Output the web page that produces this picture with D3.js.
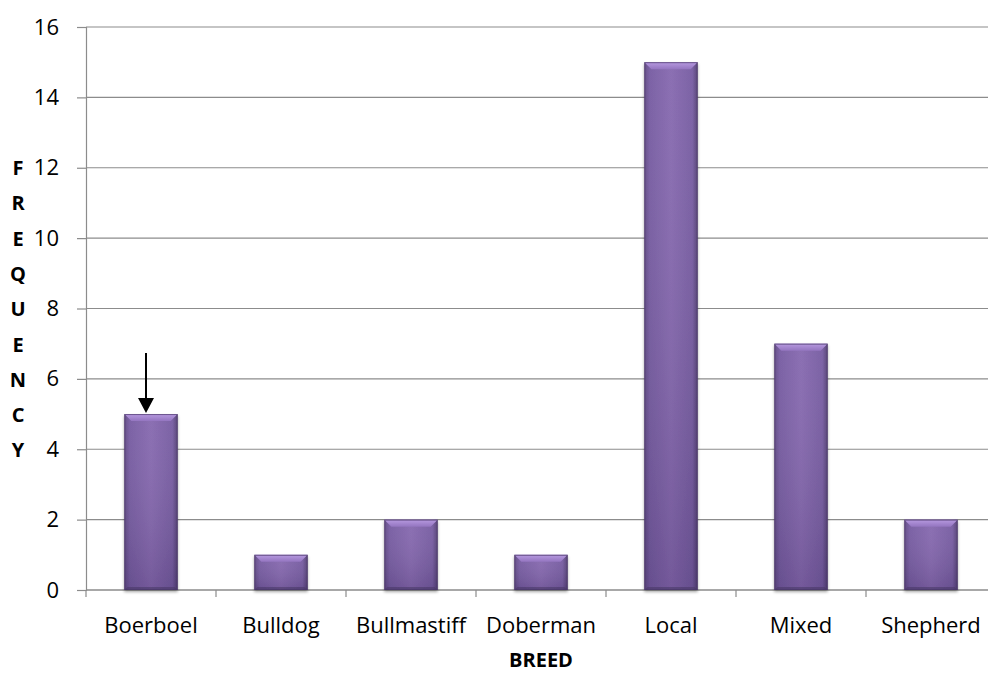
<!DOCTYPE html>
<html>
<head>
<meta charset="utf-8">
<script src="https://cdn.jsdelivr.net/npm/d3@7"></script>
<style>
  html, body { margin: 0; padding: 0; background: #fff; }
  svg { display: block; }
  text { font-family: "Open Sans", Lato, sans-serif; fill: #000; }
</style>
</head>
<body>
<svg id="chart" width="988" height="674"></svg>
<script>
// Breed frequencies
const breeds = ["Boerboel", "Bulldog", "Bullmastiff", "Doberman", "Local", "Mixed", "Shepherd"];
const counts = [5, 1, 2, 1, 15, 7, 2];
const yTicks = [0, 2, 4, 6, 8, 10, 12, 14, 16];
const yTitle = "FREQUENCY";
const xTitle = "BREED";
const markedBreed = "Boerboel";

const svg = d3.select("#chart");
const plotLeft = 86, plotRight = 996, plotTop = 27, plotBottom = 590, viewRight = 988;

const x = d3.scaleBand().domain(breeds).range([plotLeft, plotRight]).paddingInner(0.59).paddingOuter(0.295);
const xBand = d3.scaleBand().domain(breeds).range([plotLeft, plotRight]);
const y = d3.scaleLinear().domain([0, 16]).range([plotBottom, plotTop]);

const defs = svg.append("defs");
const grad = defs.append("linearGradient").attr("id", "barFill").attr("x1", 0).attr("x2", 1).attr("y1", 0).attr("y2", 0);
grad.append("stop").attr("offset", "0%").attr("stop-color", "#5d4682");
grad.append("stop").attr("offset", "10%").attr("stop-color", "#7459a0");
grad.append("stop").attr("offset", "50%").attr("stop-color", "#8466ae");
grad.append("stop").attr("offset", "90%").attr("stop-color", "#7459a0");
grad.append("stop").attr("offset", "100%").attr("stop-color", "#4f3b70");

const vgrad = defs.append("linearGradient").attr("id", "barShade").attr("x1", 0).attr("x2", 0).attr("y1", 0).attr("y2", 1);
vgrad.append("stop").attr("offset", "0%").attr("stop-color", "#ffffff").attr("stop-opacity", 0.06);
vgrad.append("stop").attr("offset", "100%").attr("stop-color", "#2a1f40").attr("stop-opacity", 0.18);

const topGrad = defs.append("linearGradient").attr("id", "bevelTop").attr("x1", 0).attr("x2", 0).attr("y1", 0).attr("y2", 1);
topGrad.append("stop").attr("offset", "0%").attr("stop-color", "#b79ae0");
topGrad.append("stop").attr("offset", "100%").attr("stop-color", "#9475c0");

const shadow = defs.append("filter").attr("id", "barShadow").attr("x", "-20%").attr("y", "-10%").attr("width", "140%").attr("height", "130%");
shadow.append("feGaussianBlur").attr("in", "SourceAlpha").attr("stdDeviation", 1.5);
shadow.append("feOffset").attr("dx", 0).attr("dy", 2).attr("result", "off");
shadow.append("feComponentTransfer").append("feFuncA").attr("type", "linear").attr("slope", 0.35);
const merge = shadow.append("feMerge");
merge.append("feMergeNode");
merge.append("feMergeNode").attr("in", "SourceGraphic");

// Gridlines
svg.append("g").selectAll("line").data(yTicks).join("line")
  .attr("x1", plotLeft).attr("x2", viewRight)
  .attr("y1", d => y(d)).attr("y2", d => y(d))
  .attr("stroke", "#8c8c8c").attr("stroke-width", 1.2);

// Y axis
const yAxis = svg.append("g").attr("transform", `translate(${plotLeft},0)`)
  .call(d3.axisLeft(y).tickValues(yTicks).tickSize(9).tickPadding(18).tickFormat(d3.format("d")));
yAxis.select(".domain").attr("stroke", "#8c8c8c").attr("stroke-width", 1.2);
yAxis.selectAll(".tick line").attr("stroke", "#8c8c8c").attr("stroke-width", 1.2);
yAxis.selectAll("text").style("font-size", "22px").style("font-family", "'Open Sans', Lato, sans-serif").attr("fill", "#000");

// X axis with ticks between categories
const xAxisG = svg.append("g");
xAxisG.append("line").attr("x1", plotLeft).attr("x2", viewRight).attr("y1", plotBottom).attr("y2", plotBottom)
  .attr("stroke", "#8c8c8c").attr("stroke-width", 1.2);
const boundaries = breeds.map(b => xBand(b)).concat([xBand(breeds[breeds.length - 1]) + xBand.bandwidth()]);
xAxisG.selectAll(".xt").data(boundaries.filter(v => v <= viewRight)).join("line")
  .attr("x1", d => d).attr("x2", d => d).attr("y1", plotBottom).attr("y2", plotBottom + 7)
  .attr("stroke", "#8c8c8c").attr("stroke-width", 1.2);
xAxisG.selectAll("text").data(breeds).join("text")
  .attr("x", d => xBand(d) + xBand.bandwidth() / 2)
  .attr("y", 633)
  .attr("text-anchor", "middle")
  .style("font-size", "22px")
  .text(d => d);

// Bars with bevelled top
const bars = svg.append("g").selectAll("g").data(breeds.map((b, i) => ({ b, v: counts[i] }))).join("g")
  .attr("filter", "url(#barShadow)");
bars.append("rect")
  .attr("x", d => x(d.b)).attr("width", x.bandwidth())
  .attr("y", d => y(d.v)).attr("height", d => y(0) - y(d.v))
  .attr("fill", "url(#barFill)");
bars.append("rect")
  .attr("x", d => x(d.b)).attr("width", x.bandwidth())
  .attr("y", d => y(d.v)).attr("height", d => y(0) - y(d.v))
  .attr("fill", "url(#barShade)");
bars.append("path")
  .attr("d", d => {
    const x0 = x(d.b), x1 = x0 + x.bandwidth(), y0 = y(d.v), b = 7;
    return `M${x0},${y0}L${x1},${y0}L${x1 - b},${y0 + b}L${x0 + b},${y0 + b}Z`;
  })
  .attr("fill", "url(#bevelTop)");
bars.append("path")
  .attr("d", d => {
    const x0 = x(d.b), x1 = x0 + x.bandwidth(), y0 = y(0), b = 3;
    return `M${x0},${y0}L${x1},${y0}L${x1 - b},${y0 - b}L${x0 + b},${y0 - b}Z`;
  })
  .attr("fill", "#4a3868").attr("opacity", 0.6);
bars.append("rect")
  .attr("x", d => x(d.b) + 0.5).attr("width", x.bandwidth() - 1)
  .attr("y", d => y(d.v) + 0.5).attr("height", d => y(0) - y(d.v) - 1)
  .attr("fill", "none").attr("stroke", "#4a3868").attr("stroke-width", 1).attr("stroke-opacity", 0.7);

// Arrow pointing at the marked bar
const markIdx = breeds.indexOf(markedBreed);
const ax = xBand(markedBreed) + xBand.bandwidth() / 2 - 5;
const tipY = y(counts[markIdx]) - 1;
svg.append("line").attr("x1", ax).attr("x2", ax).attr("y1", 353).attr("y2", tipY - 12)
  .attr("stroke", "#000").attr("stroke-width", 2);
svg.append("path").attr("d", `M${ax - 8},${tipY - 15}L${ax + 8},${tipY - 15}L${ax},${tipY}Z`).attr("fill", "#000");

// Axis titles
svg.append("g").selectAll("text").data(yTitle.split("")).join("text")
  .attr("x", 18).attr("y", (d, i) => 175 + i * 35.3)
  .attr("text-anchor", "middle")
  .style("font-size", "20px").style("font-weight", "bold")
  .text(d => d);
svg.append("text").attr("x", 541).attr("y", 667).attr("text-anchor", "middle")
  .style("font-size", "20px").style("font-weight", "bold").text(xTitle);
</script>
</body>
</html>
